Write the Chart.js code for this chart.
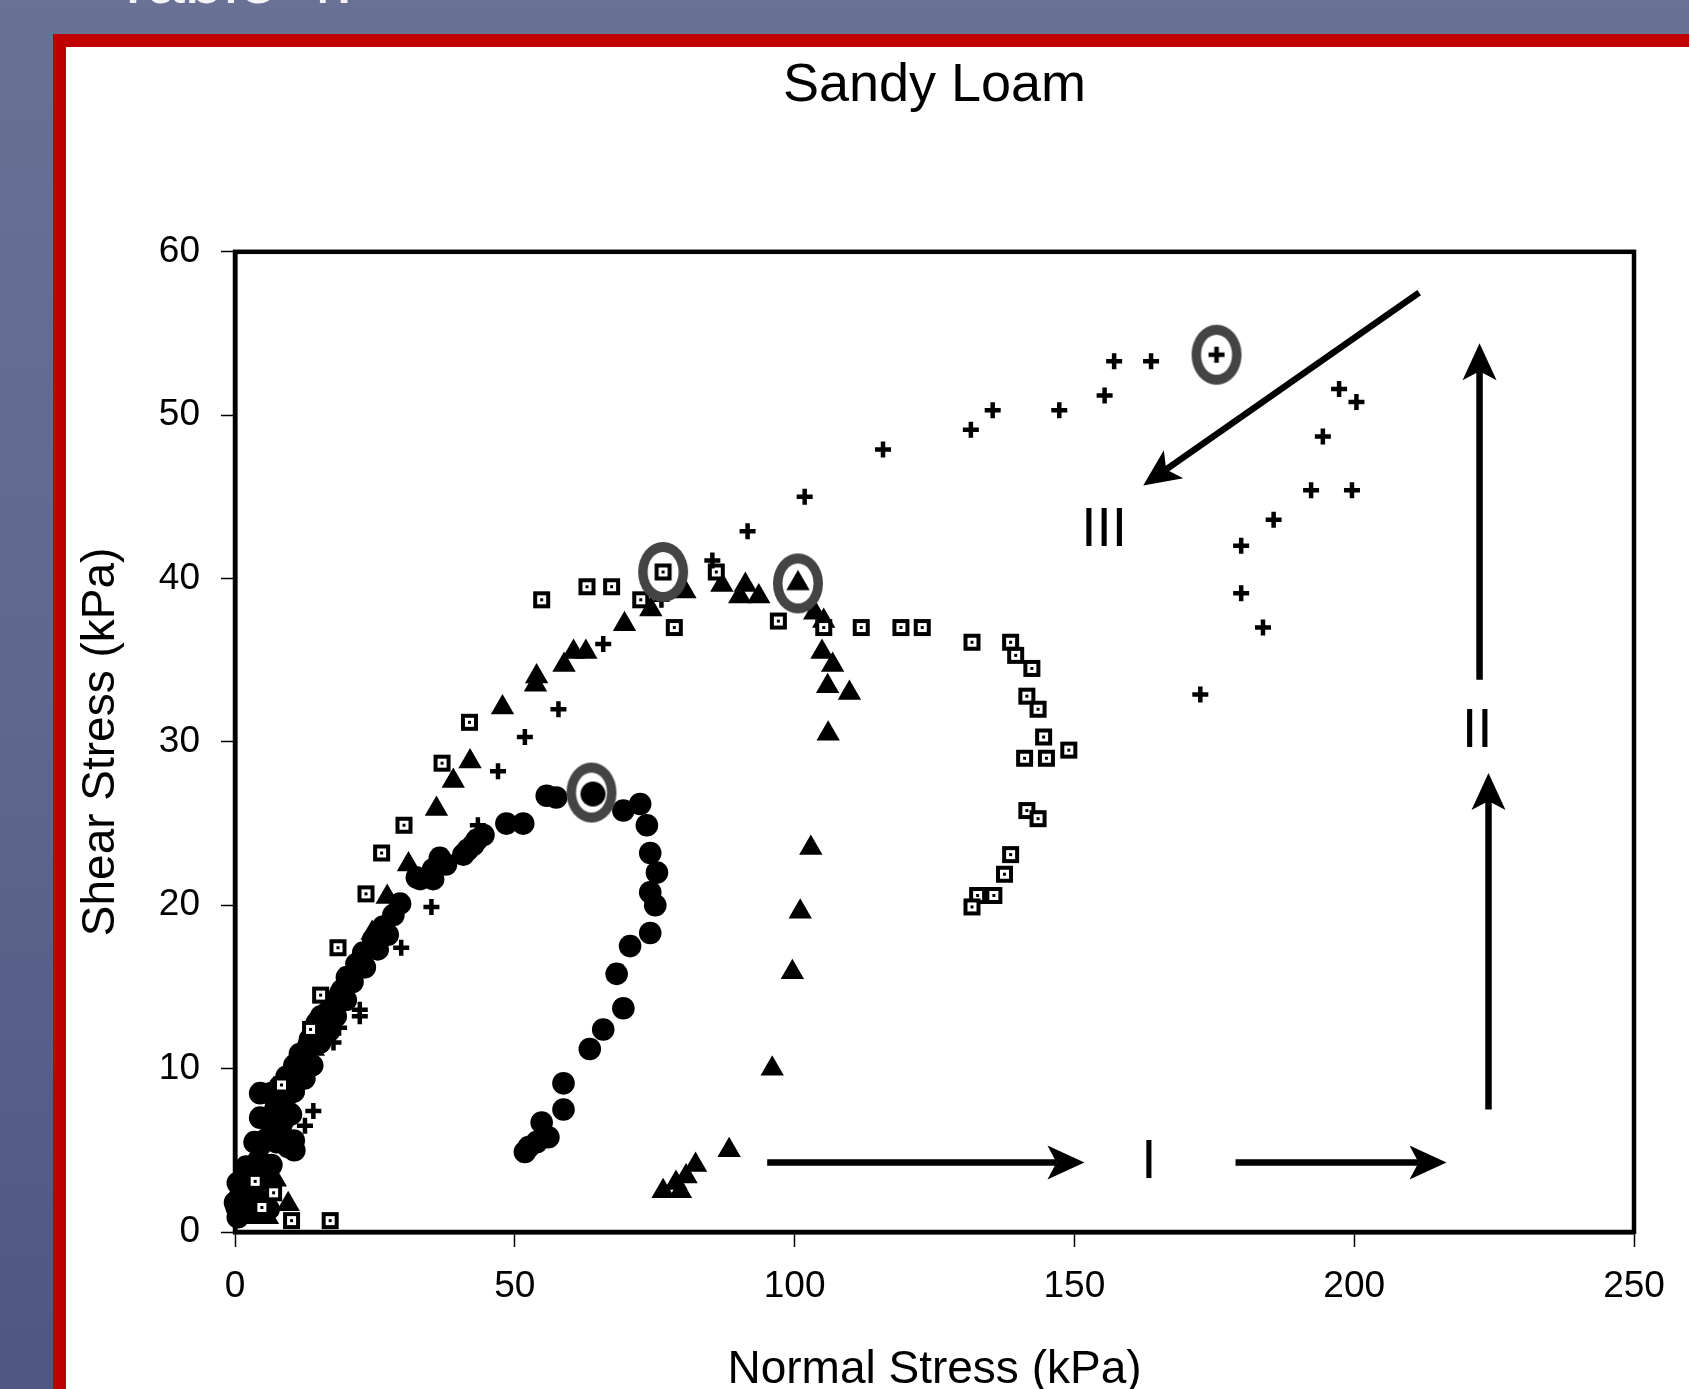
<!DOCTYPE html>
<html>
<head>
<meta charset="utf-8">
<script src="https://cdn.jsdelivr.net/npm/chart.js@4.4.1/dist/chart.umd.min.js"></script>
<style>
  html, body { margin: 0; padding: 0; }
  body {
    width: 1689px; height: 1389px; overflow: hidden; position: relative;
    background: linear-gradient(180deg, #697195 0%, #5d668c 55%, #4d5782 100%);
    font-family: 'Liberation Sans', Arial, sans-serif;
  }
  #slideTitle {
    position: absolute; left: 112px; top: -55px;
    font-size: 69px; line-height: 1; color: #f4f4f6; white-space: nowrap;
  }
  #frame {
    position: absolute; left: 53px; top: 34px; width: 2000px; height: 2000px;
    border: 13px solid #c00000; background: #fff;
  }
  #wrap { position: absolute; left: 66px; top: 47px; width: 1623px; height: 1351px; }
</style>
</head>
<body>
<div id="slideTitle">Table 4.</div>
<div id="frame"></div>
<div id="wrap"><canvas id="chart" width="1623" height="1351"></canvas></div>
<script>
// Normal stress (kPa), shear stress (kPa) pairs
const circlePts = [
  [0.0, 1.8], [0.5, 0.9], [0.3, 1.5], [0.9, 2.2], [1.5, 1.2], [1.8, 2.6], [2.4, 1.2], [3.0, 3.6],
  [2.0, 1.5], [4.0, 1.5], [6.0, 1.4], [0.5, 3.0], [2.5, 3.0], [4.5, 3.2], [2.0, 4.0], [4.5, 4.0],
  [6.5, 4.1], [3.5, 5.5], [7.5, 5.5], [10.5, 5.6], [4.5, 7.0], [6.0, 7.0], [9.0, 7.0], [10.0, 7.2],
  [4.5, 8.5], [6.5, 8.5], [9.5, 8.4], [10.5, 8.6],
  [3.6, 2.2], [4.2, 4.4], [4.5, 5.3], [5.3, 5.6], [6.0, 5.8], [7.2, 6.5], [8.3, 6.6], [9.5, 5.2],
  [10.6, 5.0], [7.2, 7.5], [7.2, 8.1], [8.0, 8.9], [9.2, 9.5], [10.1, 9.7], [10.6, 10.2], [11.9, 10.5],
  [11.6, 10.9], [13.1, 11.4], [13.4, 11.8], [14.6, 12.8], [15.4, 13.2], [16.4, 13.4], [17.6, 14.0],
  [12.4, 9.4], [13.8, 10.2], [15.2, 11.6], [16.8, 12.3], [18.0, 13.2], [19.8, 14.2], [21.0, 15.3],
  [23.2, 16.2], [25.5, 17.3], [27.3, 18.2],
  [18.8, 14.6], [19.1, 14.8], [20.0, 15.6], [21.7, 16.4], [22.9, 17.1], [24.7, 17.9], [26.5, 18.7],
  [28.3, 19.4], [29.5, 20.1], [32.5, 21.7], [33.1, 21.6], [35.4, 21.6], [35.4, 22.2], [36.6, 22.9],
  [37.7, 22.5], [40.8, 23.1], [41.6, 23.4], [42.6, 23.7], [43.2, 24.0], [44.4, 24.3], [48.5, 25.0],
  [51.5, 25.0], [55.7, 26.7], [57.4, 26.6], [63.7, 26.9], [69.4, 25.8], [72.4, 26.2], [73.6, 24.9],
  [74.2, 23.2], [75.4, 22.0], [74.2, 20.8], [75.1, 20.0], [74.2, 18.3], [70.6, 17.5], [68.2, 15.8],
  [69.4, 13.7], [65.8, 12.4], [63.4, 11.2], [58.7, 9.1], [58.7, 7.5], [54.8, 6.7], [56.0, 5.8],
  [53.9, 5.5], [52.5, 5.2], [51.8, 4.9]
];
const trianglePts = [
  [3.2, 0.9], [5.8, 0.9], [9.5, 1.7], [7.2, 3.2], [8.0, 7.3], [11.5, 9.5], [14.0, 11.2], [16.5, 13.0],
  [19.4, 14.6], [19.4, 15.3], [22.0, 16.8], [24.5, 18.3], [27.2, 20.5], [31.0, 22.5], [36.0, 25.9],
  [39.0, 27.6], [42.0, 28.8], [47.8, 32.1], [53.7, 33.5], [53.9, 34.0], [58.8, 34.7], [60.5, 35.5],
  [62.7, 35.5], [69.6, 37.2], [74.3, 38.1], [80.4, 39.2], [87.0, 39.6], [90.2, 38.9], [91.2, 39.6],
  [93.6, 38.9], [100.6, 39.7], [103.6, 37.9], [105.2, 37.4], [104.9, 35.5], [106.8, 34.7], [105.9, 33.4],
  [109.8, 33.0], [106.0, 30.5], [102.9, 23.5], [101.0, 19.6], [99.6, 15.9], [96.0, 10.0], [88.3, 5.0],
  [82.3, 4.1], [80.6, 3.4], [78.8, 3.0], [76.5, 2.5], [79.6, 2.5]
];
const squarePts = [
  [10.1, 0.7], [17.0, 0.7], [6.9, 2.4], [4.8, 1.5], [3.6, 3.1], [8.3, 9.0], [13.5, 12.4], [15.3, 14.5],
  [18.4, 17.4], [23.4, 20.7], [26.2, 23.2], [30.2, 24.9], [37.0, 28.7], [41.9, 31.2], [54.8, 38.7],
  [62.9, 39.5], [67.3, 39.5], [72.5, 38.7], [76.5, 40.4], [78.5, 37.0], [86.0, 40.4], [97.1, 37.4],
  [105.2, 37.0], [111.9, 37.0], [119.0, 37.0], [122.8, 37.0], [131.7, 36.1], [138.6, 36.1], [139.5, 35.3],
  [142.4, 34.5], [141.5, 32.8], [143.5, 32.0], [144.5, 30.3], [149.0, 29.5], [141.1, 29.0], [145.0, 29.0],
  [141.5, 25.8], [143.5, 25.3], [138.6, 23.1], [137.5, 21.9], [135.6, 20.6], [132.7, 20.6], [131.7, 19.9]
];
const plusPts = [
  [3.3, 1.0], [12.5, 6.5], [14.0, 7.4], [17.6, 11.6], [18.6, 12.5], [22.3, 13.2], [22.3, 13.6], [29.7, 17.4],
  [35.1, 19.9], [43.4, 24.9], [47.0, 28.2], [51.8, 30.3], [57.8, 32.0], [65.8, 36.0], [76.2, 38.7],
  [85.3, 41.1], [91.6, 42.9], [101.8, 45.0], [115.8, 47.9], [131.5, 49.1], [135.4, 50.3], [147.3, 50.3],
  [155.4, 51.2], [157.1, 53.3], [163.7, 53.3], [175.2, 53.7], [197.3, 51.6], [200.4, 50.8], [194.4, 48.7],
  [192.3, 45.4], [199.6, 45.4], [185.6, 43.6], [179.8, 42.0], [179.8, 39.1], [183.7, 37.0], [172.5, 32.9]
];
// circled peak points and the marker each one holds
const ringPts = [[63.7, 26.9], [76.5, 40.4], [100.6, 39.7], [175.4, 53.7]];
const ringKinds = ['circle', 'rect', 'triangle', 'cross'];

// arrows [x1, y1, x2, y2] in data units, tip at the second point
const arrows = [
  [95.1, 4.25, 151.8, 4.25],
  [178.8, 4.25, 216.5, 4.25],
  [224.0, 7.5, 224.0, 28.1],
  [222.4, 33.8, 222.4, 54.4],
  [211.6, 57.5, 162.3, 45.7]
];
const stageLabels = [['I', 163.3, 4.25], ['II', 222.0, 30.6], ['III', 155.3, 42.9]];

const xTicks = [0, 50, 100, 150, 200, 250];
const yTicks = [0, 10, 20, 30, 40, 50, 60];

const FONT = "'Liberation Sans', Arial, sans-serif";
const toXY = pts => pts.map(p => ({ x: p[0], y: p[1] }));

function drawMarker(g, kind, cx, cy) {
  g.fillStyle = '#000';
  g.strokeStyle = '#000';
  if (kind === 'circle') {
    g.beginPath(); g.arc(cx + 1.5, cy + 1.5, 12.5, 0, Math.PI * 2); g.fill();
  } else if (kind === 'rect') {
    g.fillRect(cx - 8.5, cy - 8.5, 17, 17);
    g.fillStyle = '#fff'; g.fillRect(cx - 4.5, cy - 4.5, 9, 9);
    g.fillStyle = '#000'; g.fillRect(cx - 1.5, cy - 1.5, 3, 3);
  } else if (kind === 'triangle') {
    g.beginPath(); g.moveTo(cx, cy - 13.5); g.lineTo(cx + 11.7, cy + 6.8); g.lineTo(cx - 11.7, cy + 6.8);
    g.closePath(); g.fill();
  } else {
    g.lineWidth = 4.5;
    g.beginPath(); g.moveTo(cx - 8, cy); g.lineTo(cx + 8, cy);
    g.moveTo(cx, cy - 8); g.lineTo(cx, cy + 8); g.stroke();
  }
}

function markerImage(kind) {
  const c = document.createElement('canvas');
  c.width = 19; c.height = 19;
  drawMarker(c.getContext('2d'), kind, 9.5, 9.5);
  return c;
}

function ringImage(kind) {
  const c = document.createElement('canvas');
  c.width = 52; c.height = 62;
  const g = c.getContext('2d');
  g.fillStyle = '#444';
  g.beginPath(); g.ellipse(26, 31, 25, 30, 0, 0, Math.PI * 2); g.fill();
  g.fillStyle = '#fff';
  g.beginPath(); g.ellipse(26, 31, 15.5, 20, 0, 0, Math.PI * 2); g.fill();
  drawMarker(g, kind, 26, 31);
  return c;
}

const plotFrame = {
  id: 'plotFrame',
  beforeDatasetsDraw(chart) {
    const { ctx, chartArea: a } = chart;
    ctx.save();
    ctx.strokeStyle = '#000';
    ctx.lineWidth = 4.5;
    ctx.strokeRect(a.left, a.top, a.right - a.left, a.bottom - a.top);
    ctx.restore();
  },
  afterDatasetsDraw(chart) {
    const { ctx, scales: { x, y } } = chart;
    ctx.save();
    ctx.fillStyle = '#000';
    ctx.strokeStyle = '#000';
    arrows.forEach(([x1, y1, x2, y2]) => {
      const ax = x.getPixelForValue(x1), ay = y.getPixelForValue(y1);
      const bx = x.getPixelForValue(x2), by = y.getPixelForValue(y2);
      const len = Math.hypot(bx - ax, by - ay);
      const ux = (bx - ax) / len, uy = (by - ay) / len;
      const L = 37, W = 17, N = 9;
      ctx.lineWidth = 6.5;
      ctx.beginPath();
      ctx.moveTo(ax, ay);
      ctx.lineTo(bx - ux * (L - N), by - uy * (L - N));
      ctx.stroke();
      ctx.beginPath();
      ctx.moveTo(bx, by);
      ctx.lineTo(bx - ux * L - uy * W, by - uy * L + ux * W);
      ctx.lineTo(bx - ux * (L - N), by - uy * (L - N));
      ctx.lineTo(bx - ux * L + uy * W, by - uy * L - ux * W);
      ctx.closePath();
      ctx.fill();
    });
    ctx.font = '55px ' + FONT;
    ctx.textAlign = 'center';
    ctx.textBaseline = 'middle';
    stageLabels.forEach(([t, vx, vy]) => {
      ctx.fillText(t, x.getPixelForValue(vx), y.getPixelForValue(vy));
    });
    ctx.restore();
  }
};

new Chart(document.getElementById('chart'), {
  type: 'scatter',
  data: {
    datasets: [
      {
        label: 'circles', data: toXY(circlePts), order: 5, clip: false,
        pointStyle: 'circle', pointRadius: 11.3, pointBackgroundColor: '#000', pointBorderWidth: 0
      },
      {
        label: 'triangles', data: toXY(trianglePts), order: 4, clip: false,
        pointStyle: 'triangle', pointRadius: 13.5, pointBackgroundColor: '#000', pointBorderWidth: 0
      },
      {
        label: 'squares', data: toXY(squarePts), order: 3, clip: false,
        pointStyle: markerImage('rect'), pointRadius: 9
      },
      {
        label: 'plus', data: toXY(plusPts), order: 2, clip: false,
        pointStyle: 'cross', pointRadius: 8, pointBorderColor: '#000', pointBorderWidth: 4.5
      },
      {
        label: 'rings', data: toXY(ringPts), order: 1, clip: false,
        pointStyle: ringKinds.map(ringImage), pointRadius: 20
      }
    ]
  },
  options: {
    responsive: false,
    animation: false,
    devicePixelRatio: 1,
    layout: { padding: { left: 0, right: 55, top: 0, bottom: 0 } },
    plugins: {
      legend: { display: false },
      tooltip: { enabled: false },
      title: {
        display: true, text: 'Sandy Loam', color: '#000', fullSize: false,
        font: { family: FONT, size: 54, weight: 'normal' },
        padding: { top: 7, bottom: 133 }
      }
    },
    scales: {
      x: {
        type: 'linear', min: 0, max: 250,
        afterBuildTicks: s => { s.ticks = xTicks.map(v => ({ value: v })); },
        ticks: { color: '#000', font: { family: FONT, size: 37 }, padding: 18, maxRotation: 0 },
        grid: { drawOnChartArea: false, drawTicks: true, tickLength: 15, tickColor: '#000', tickWidth: 1.5 },
        border: { display: true, color: '#000', width: 4.5 },
        title: { display: true, text: 'Normal Stress (kPa)', color: '#000', font: { family: FONT, size: 46 }, padding: 0 },
        afterFit: s => { s.height = 166; }
      },
      y: {
        type: 'linear', min: 0, max: 60,
        afterBuildTicks: s => { s.ticks = yTicks.map(v => ({ value: v })); },
        ticks: { color: '#000', font: { family: FONT, size: 37 }, padding: 21 },
        grid: { drawOnChartArea: false, drawTicks: true, tickLength: 14, tickColor: '#000', tickWidth: 1.5 },
        border: { display: true, color: '#000', width: 4.5 },
        title: { display: true, text: 'Shear Stress (kPa)', color: '#000', font: { family: FONT, size: 46 }, padding: { top: 8, bottom: 0 } },
        afterFit: s => { s.width = 169; }
      }
    }
  },
  plugins: [plotFrame]
});
</script>
</body>
</html>
